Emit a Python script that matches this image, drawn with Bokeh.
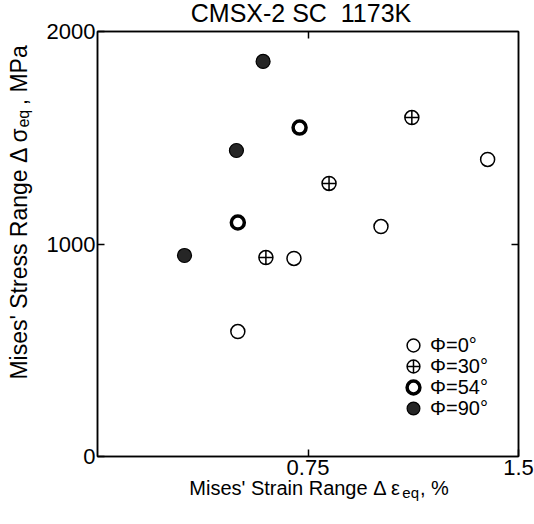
import math
from bokeh.plotting import figure
from bokeh.models import (Range1d, FixedTicker, LinearAxis, Label, Legend, LegendItem)
from bokeh.embed import file_html
from bokeh.resources import INLINE

# ---- data ----
open_x = [0.50, 0.70, 1.01, 1.39]
open_y = [588, 932, 1082, 1398]
cross_x = [0.60, 0.825, 1.12]
cross_y = [936, 1285, 1595]
thick_x = [0.50, 0.72]
thick_y = [1101, 1548]
filled_x = [0.31, 0.495, 0.59]
filled_y = [946, 1440, 1859]

x_ticks = [0.75, 1.5]
y_ticks = [0, 1000, 2000]
series_labels = ["\u03a6=0\u00b0", "\u03a6=30\u00b0", "\u03a6=54\u00b0", "\u03a6=90\u00b0"]
title_text = "CMSX-2 SC \u00a01173K"
x_label_text = "Mises' Strain Range \u0394 \u03b5\u2003, %"
y_label_text = "Mises' Stress Range \u0394 \u03c3\u2003, MPa"
sub_text = "eq"

FONT = "Liberation Sans"

p = figure(width=534, height=524, output_backend="svg", toolbar_location=None,
           x_range=Range1d(0, 1.5), y_range=Range1d(0, 2000),
           min_border_left=96, min_border_right=16, min_border_top=31, min_border_bottom=68,
           x_axis_location=None, y_axis_location=None, title=None)
p.grid.visible = False
p.outline_line_color = "black"
p.outline_line_width = 1.5
p.background_fill_color = "white"
p.border_fill_color = "white"

def style_axis(ax, ticks, show_labels=True):
    ax.ticker = FixedTicker(ticks=ticks)
    ax.minor_tick_line_color = None
    ax.major_tick_in = 7
    ax.major_tick_out = 0
    ax.major_tick_line_width = 1.5
    ax.axis_line_width = 1.5
    ax.axis_line_color = "black"
    ax.major_tick_line_color = "black"
    ax.major_label_text_font = FONT
    ax.major_label_text_color = "black"
    if show_labels:
        ax.major_label_text_font_size = "22px"
        ax.major_label_standoff = 3
    else:
        ax.major_label_text_font_size = "0px"
        ax.major_label_standoff = 0
        ax.major_label_overrides = {t: "" for t in ticks}

bottom = LinearAxis()
style_axis(bottom, x_ticks)
p.add_layout(bottom, "below")
left = LinearAxis()
style_axis(left, y_ticks)
left.major_label_standoff = 2
p.add_layout(left, "left")
top = LinearAxis()
style_axis(top, [0.75], show_labels=False)
p.add_layout(top, "above")
right = LinearAxis()
style_axis(right, [1000], show_labels=False)
p.add_layout(right, "right")

# ---- markers ----
r0 = p.scatter(open_x, open_y, marker="circle", size=14, fill_color="white",
               line_color="black", line_width=1.5)
r1 = p.scatter(cross_x, cross_y, marker="circle_cross", size=14, fill_color="white",
               line_color="black", line_width=1.5)
r2 = p.scatter(thick_x, thick_y, marker="circle", size=13, fill_color="white",
               line_color="black", line_width=3.5)
r3 = p.scatter(filled_x, filled_y, marker="circle", size=14, fill_color="#262626",
               line_color="black", line_width=1.2)

# one single-row legend per series, stacked with a 21 px pitch
for i, (lab, r) in enumerate(zip(series_labels, [r0, r1, r2, r3])):
    lg = Legend(items=[LegendItem(label=lab, renderers=[r])],
                location=(300, 95 - 21 * i), border_line_color=None, background_fill_alpha=0,
                padding=0, spacing=0, glyph_width=32, glyph_height=32, label_height=21,
                label_standoff=1, label_text_font=FONT, label_text_font_size="20px",
                label_text_color="black", margin=0)
    p.add_layout(lg)

# ---- texts outside the frame: in side panels, placed with data units ----
def lab(side, **kw):
    kw.setdefault("text_font", FONT)
    kw.setdefault("text_color", "black")
    kw.setdefault("text_baseline", "alphabetic")
    p.add_layout(Label(**kw), side)

lab("above", x=0.725, y=2085, text=title_text, text_align="center", text_font_size="25px")

lab("below", x=0.327, y=-146, text=x_label_text, text_align="left", text_font_size="20px")
lab("below", x=1.086, y=-169, text=sub_text, text_align="left", text_font_size="15px")

lab("left", x=-0.2808, y=362, angle=math.pi / 2, text=y_label_text, text_align="left",
    text_font_size="23px")
lab("left", x=-0.263, y=1548, angle=math.pi / 2, text=sub_text, text_align="left",
    text_font_size="16px")

open("out.html", "w").write(file_html(p, INLINE))
